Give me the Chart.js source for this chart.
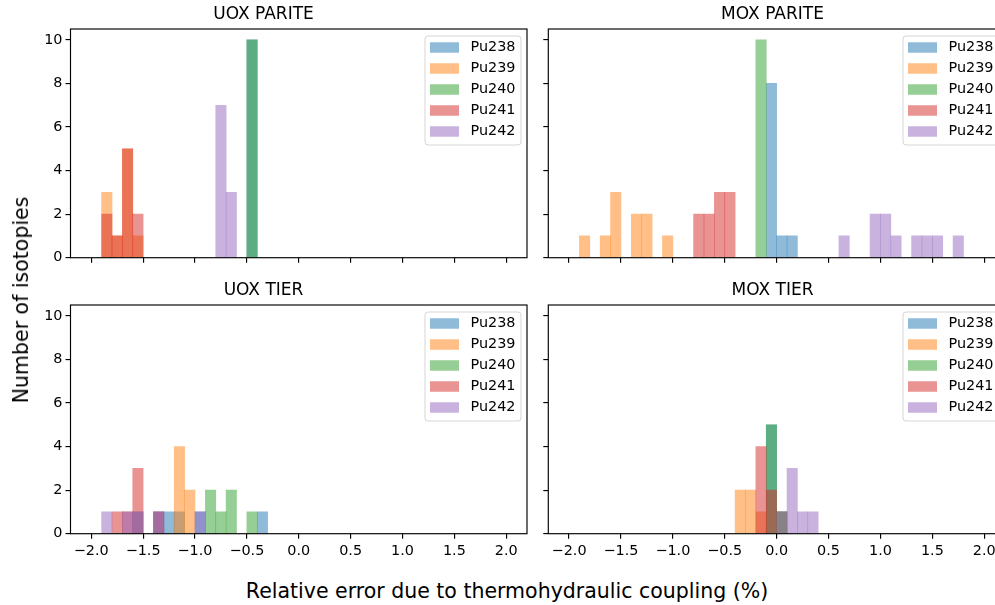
<!DOCTYPE html>
<html>
<head>
<meta charset="utf-8">
<script src="https://cdn.jsdelivr.net/npm/chart.js@4.4.0/dist/chart.umd.min.js"></script>
<style>
  html, body { margin: 0; padding: 0; background: #fff; overflow: hidden; }
  #fig { position: relative; width: 995px; height: 605px; overflow: hidden; }
  #fig canvas { position: absolute; }
  .lab { position: absolute; font-family: 'DejaVu Sans', sans-serif; font-size: 20.5px; color: #000; white-space: nowrap; transform: translate(-50%, -50%); }
  #ylab { transform: translate(-50%, -50%) rotate(-90deg); }
</style>
</head>
<body>
<div id="fig">
  <canvas id="uoxParite" width="540" height="290" style="left:0;top:0"></canvas>
  <canvas id="moxParite" width="480" height="290" style="left:540px;top:0"></canvas>
  <canvas id="uoxTier" width="540" height="290" style="left:0;top:276px"></canvas>
  <canvas id="moxTier" width="480" height="290" style="left:540px;top:276px"></canvas>
  <div class="lab" id="ylab" style="left:21px;top:300px">Number of isotopies</div>
  <div class="lab" id="xlab" style="left:507px;top:591px">Relative error due to thermohydraulic coupling (%)</div>
</div>
<script>
const isotopes = ['Pu238', 'Pu239', 'Pu240', 'Pu241', 'Pu242'];
const binWidth = 0.1;
const xTickValues = [-2.0, -1.5, -1.0, -0.5, 0.0, 0.5, 1.0, 1.5, 2.0];
const yTickValues = [0, 2, 4, 6, 8, 10];

// each entry: [left edge of bin, count]
const uoxParitePu238 = [[-0.5, 10]];
const uoxParitePu239 = [[-1.9, 3], [-1.8, 1], [-1.7, 5], [-1.6, 1]];
const uoxParitePu240 = [[-0.5, 10]];
const uoxParitePu241 = [[-1.9, 2], [-1.8, 1], [-1.7, 5], [-1.6, 2]];
const uoxParitePu242 = [[-0.8, 7], [-0.7, 3]];

const moxParitePu238 = [[-0.1, 8], [0.0, 1], [0.1, 1]];
const moxParitePu239 = [[-1.9, 1], [-1.7, 1], [-1.6, 3], [-1.4, 2], [-1.3, 2], [-1.1, 1]];
const moxParitePu240 = [[-0.2, 10]];
const moxParitePu241 = [[-0.8, 2], [-0.7, 2], [-0.6, 3], [-0.5, 3]];
const moxParitePu242 = [[0.6, 1], [0.9, 2], [1.0, 2], [1.1, 1], [1.3, 1], [1.4, 1], [1.5, 1], [1.7, 1]];

const uoxTierPu238 = [[-1.6, 1], [-1.4, 1], [-1.3, 1], [-1.2, 1], [-1.0, 1], [-0.4, 1]];
const uoxTierPu239 = [[-1.2, 4], [-1.1, 2]];
const uoxTierPu240 = [[-0.9, 2], [-0.8, 1], [-0.7, 2], [-0.5, 1]];
const uoxTierPu241 = [[-1.8, 1], [-1.7, 1], [-1.6, 3], [-1.4, 1]];
const uoxTierPu242 = [[-1.9, 1], [-1.7, 1], [-1.6, 1], [-1.4, 1], [-1.0, 1]];

const moxTierPu238 = [[-0.1, 5], [0.0, 1]];
const moxTierPu239 = [[-0.4, 2], [-0.3, 2], [-0.2, 1], [0.0, 1]];
const moxTierPu240 = [[-0.1, 5], [0.0, 1]];
const moxTierPu241 = [[-0.2, 4], [-0.1, 2]];
const moxTierPu242 = [[0.0, 1], [0.1, 3], [0.2, 1], [0.3, 1]];

const colors = [
    'rgba(31,119,180,0.5)',
    'rgba(255,127,14,0.5)',
    'rgba(44,160,44,0.5)',
    'rgba(214,39,40,0.5)',
    'rgba(148,103,189,0.5)'
];

Chart.defaults.font.family = "'DejaVu Sans', sans-serif";
Chart.defaults.color = '#000';

const tickFont = { size: 14.4 };
const fmt = v => v.toFixed(1).replace('-', '\u2212');

// box around the axes, like matplotlib spines
const frame = {
    id: 'frame',
    afterDatasetsDraw(chart) {
        const { ctx, chartArea: a } = chart;
        ctx.save();
        ctx.strokeStyle = '#000';
        ctx.lineWidth = 1.15;
        ctx.strokeRect(a.left, a.top, a.right - a.left, a.bottom - a.top);
        ctx.restore();
    }
};

// legend in the upper right corner of the axes
const legendBox = {
    id: 'legendBox',
    afterDraw(chart) {
        const { ctx, chartArea: a } = chart;
        const w = 96, h = 109;
        const x = a.right - 6 - w, y = a.top + 7;
        ctx.save();
        ctx.beginPath();
        ctx.roundRect(x, y, w, h, 3);
        ctx.fillStyle = 'rgba(255,255,255,0.8)';
        ctx.fill();
        ctx.strokeStyle = 'rgba(204,204,204,0.8)';
        ctx.lineWidth = 1;
        ctx.stroke();
        ctx.font = '14.4px "DejaVu Sans"';
        ctx.textBaseline = 'middle';
        chart.data.datasets.forEach((ds, i) => {
            const cy = y + 11.5 + i * 21;
            ctx.fillStyle = ds.backgroundColor;
            ctx.fillRect(x + 5, cy - 5.25, 29, 10.5);
            ctx.fillStyle = '#000';
            ctx.fillText(ds.label, x + 45.5, cy);
        });
        ctx.restore();
    }
};

const makePanel = (id, title, series, showX, showY, yWidth, rightPad) => {
    new Chart(document.getElementById(id), {
        type: 'bar',
        data: {
            datasets: isotopes.map((name, i) => ({
                label: name,
                data: series[i].map(([edge, n]) => ({ x: Math.round((edge + binWidth / 2) * 1000) / 1000, y: n })),
                backgroundColor: colors[i],
                borderWidth: 0,
                order: isotopes.length - i
            }))
        },
        options: {
            responsive: false,
            animation: false,
            layout: { padding: { left: 0, right: rightPad, top: 0, bottom: 0 } },
            datasets: { bar: { grouped: false, barPercentage: 1, categoryPercentage: 1 } },
            plugins: {
                legend: { display: false },
                tooltip: { enabled: false },
                title: {
                    display: true, text: title, color: '#000',
                    font: { size: 17, weight: 'normal' },
                    padding: { top: 4.5, bottom: 4.1 }
                }
            },
            scales: {
                x: {
                    type: 'linear', min: -2.2, max: 2.2, offset: false,
                    afterBuildTicks: s => { s.ticks = xTickValues.map(v => ({ value: v })); },
                    afterFit: s => { s.height = 32.3; },
                    grid: { drawOnChartArea: false, drawTicks: true, tickLength: 5, color: '#000', lineWidth: 1.15, offset: false },
                    border: { display: false },
                    ticks: { display: showX, font: tickFont, color: '#000', padding: 3.5, maxRotation: 0, autoSkip: false, callback: v => fmt(v) }
                },
                y: {
                    min: 0, max: 10.5,
                    afterBuildTicks: s => { s.ticks = yTickValues.map(v => ({ value: v })); },
                    afterFit: s => { s.width = yWidth; },
                    grid: { drawOnChartArea: false, drawTicks: true, tickLength: 5, color: '#000', lineWidth: 1.15 },
                    border: { display: false },
                    ticks: { display: showY, font: tickFont, color: '#000', padding: 3, callback: v => String(v) }
                }
            }
        },
        plugins: [frame, legendBox]
    });
};

makePanel('uoxParite', 'UOX PARITE',
    [uoxParitePu238, uoxParitePu239, uoxParitePu240, uoxParitePu241, uoxParitePu242], false, true, 70.5, 13);
makePanel('moxParite', 'MOX PARITE',
    [moxParitePu238, moxParitePu239, moxParitePu240, moxParitePu241, moxParitePu242], false, false, 8.3, 15);
makePanel('uoxTier', 'UOX TIER',
    [uoxTierPu238, uoxTierPu239, uoxTierPu240, uoxTierPu241, uoxTierPu242], true, true, 70.5, 13);
makePanel('moxTier', 'MOX TIER',
    [moxTierPu238, moxTierPu239, moxTierPu240, moxTierPu241, moxTierPu242], true, false, 8.3, 15);
</script>
</body>
</html>
